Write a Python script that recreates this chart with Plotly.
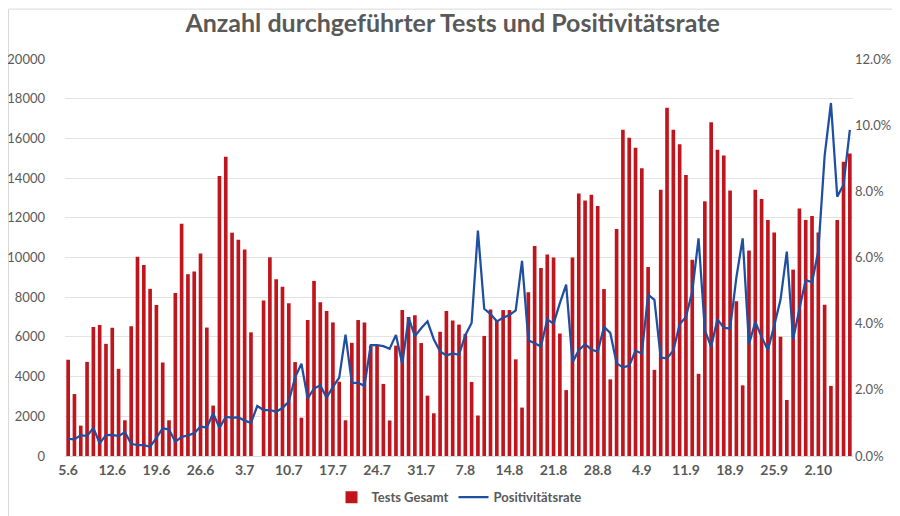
import pandas as pd
import plotly.graph_objects as go

# Categories: one per day from 5 June to 7 October
dates = pd.date_range("2020-06-05", "2020-10-07", freq="D")
categories = [f"{d.day}.{d.month}" for d in dates]

tests_gesamt = [
    4850, 3120, 1530, 4740, 6500, 6600, 5650, 6460, 4390, 1800,
    6540, 10040, 9620, 8420, 7610, 4710, 1800, 8210, 11700, 9160,
    9300, 10200, 6470, 2540, 14100, 15070, 11250, 10900, 10400, 6230,
    None, 7830, 10010, 8900, 8530, 7700, 4730, 1930, 6850, 8820,
    7750, 7300, 6730, 3740, 1800, 5700, 6850, 6730, 5560, 5560,
    3630, 1790, 5560, 7360, 7000, 7090, 5690, 3040, 2150, 6260,
    7310, 6820, 6620, 6150, 3730, 2040, 6050, 7380, 6800, 7350,
    7350, 4870, 2440, 8250, 10580, 9470, 10150, 10000, 6170, 3320,
    10000, 13220, 12870, 13160, 12590, 8410, 3860, 11430, 16430, 16030,
    15530, 14490, 9520, 4340, 13410, 17550, 16430, 15700, 14160, 9890,
    4140, 12830, 16810, 15430, 15140, 13380, 7800, 3560, 10350, 13410,
    12950, 11890, 11260, 6010, 2820, 9390, 12470, 11890, 12090, 11260,
    7620, 3530, 11890, 14820, 15240,
]

positivitaetsrate = [  # percent
    0.52, 0.50, 0.63, 0.60, 0.85, 0.38, 0.63, 0.64, 0.60, 0.72,
    0.37, 0.33, 0.33, 0.28, 0.55, 0.84, 0.80, 0.43, 0.58, 0.62,
    0.69, 0.89, 0.86, 1.29, 0.85, 1.18, 1.16, 1.17, 1.07, 1.00,
    1.51, 1.39, 1.39, 1.34, 1.45, 1.65, 2.38, 2.79, 1.74, 2.04,
    2.14, 1.76, 2.09, 2.37, 3.67, 2.21, 2.21, 2.12, 3.35, 3.35,
    3.32, 3.24, 3.66, 2.78, 4.18, 3.62, 3.86, 4.07, 3.53, 3.16,
    3.04, 3.10, 3.06, 3.65, 4.02, 6.81, 4.45, 4.29, 4.07, 4.18,
    4.26, 4.40, 5.90, 3.50, 3.41, 3.31, 4.13, 4.00, 4.62, 5.18,
    2.83, 3.20, 3.38, 3.22, 3.15, 3.90, 3.72, 2.80, 2.68, 2.73,
    3.18, 3.10, 4.88, 4.72, 2.97, 2.95, 3.19, 3.98, 4.20, 4.97,
    6.58, 3.80, 3.30, 4.13, 3.88, 3.85, 5.40, 6.58, 3.38, 4.05,
    3.60, 3.20, 3.94, 4.72, 6.18, 3.53, 4.45, 5.32, 5.25, 6.20,
    9.07, 10.67, 7.84, 8.20, 9.86,
]

tick_labels = ["5.6", "12.6", "19.6", "26.6", "3.7", "10.7", "17.7", "24.7",
               "31.7", "7.8", "14.8", "21.8", "28.8", "4.9", "11.9", "18.9",
               "25.9", "2.10"]

rate_fraction = [v / 100 for v in positivitaetsrate]

FONT = "Lato, 'Open Sans', sans-serif"
GRAY = "#595959"

fig = go.Figure()
fig.add_trace(go.Bar(
    x=categories, y=tests_gesamt, name="<b>Tests Gesamt</b>",
    marker=dict(color="#C0151D", line=dict(width=0)),
))
fig.add_trace(go.Scatter(
    x=categories, y=rate_fraction, name="<b>Positivitätsrate</b>", yaxis="y2",
    mode="lines", line=dict(color="#1F4FA0", width=2.25),
))

fig.update_layout(
    width=900, height=516,
    margin=dict(l=57, r=55, t=51, b=63),
    paper_bgcolor="white", plot_bgcolor="white",
    font=dict(family=FONT, color=GRAY),
    title=dict(text="<b>Anzahl durchgeführter Tests und Positivitätsrate</b>",
               x=0.494, xanchor="center", y=1 - 15 / 516, yanchor="middle",
               font=dict(size=25, color=GRAY, family=FONT)),
    bargap=0.42,
    showlegend=True,
    legend=dict(orientation="h", x=0.5, xanchor="center", y=-0.104,
                yanchor="middle", font=dict(size=13, color=GRAY, family=FONT),
                itemwidth=30, traceorder="normal"),
    xaxis=dict(type="category", tickmode="array",
               tickvals=[categories[i] for i in range(0, len(categories), 7)][:len(tick_labels)],
               ticktext=[f"<b>{t}</b>" for t in tick_labels],
               tickfont=dict(size=14, color=GRAY, family=FONT),
               ticklabelstandoff=1, automargin=False,
               showgrid=False, showline=True, linecolor="#d9d9d9", linewidth=1,
               ticks="", range=[-0.5, len(categories) - 0.5]),
    yaxis=dict(range=[0, 20000], dtick=2000, tickformat="d", showgrid=True,
               gridcolor="#e3e3e3", gridwidth=1, zeroline=False,
               ticklabelstandoff=19, automargin=False,
               tickfont=dict(size=13, color=GRAY), ticks="", showline=False),
    yaxis2=dict(range=[0, 0.12], dtick=0.02, tickformat=".1%", overlaying="y",
                side="right", showgrid=False, zeroline=False,
                ticklabelstandoff=1, automargin=False,
                tickfont=dict(size=13, color=GRAY), ticks=""),
)

# light chart border
pw = 900 - 57 - 55
ph = 516 - 51 - 63
fig.add_shape(type="rect", xref="paper", yref="paper",
              x0=(0.5 - 57) / pw, x1=(899.5 - 57) / pw,
              y0=(516 - 63 - 515.5) / ph, y1=(516 - 63 - 0.5) / ph,
              line=dict(color="#d9d9d9", width=1), fillcolor="rgba(0,0,0,0)",
              layer="below")

fig.write_html("out.html")
